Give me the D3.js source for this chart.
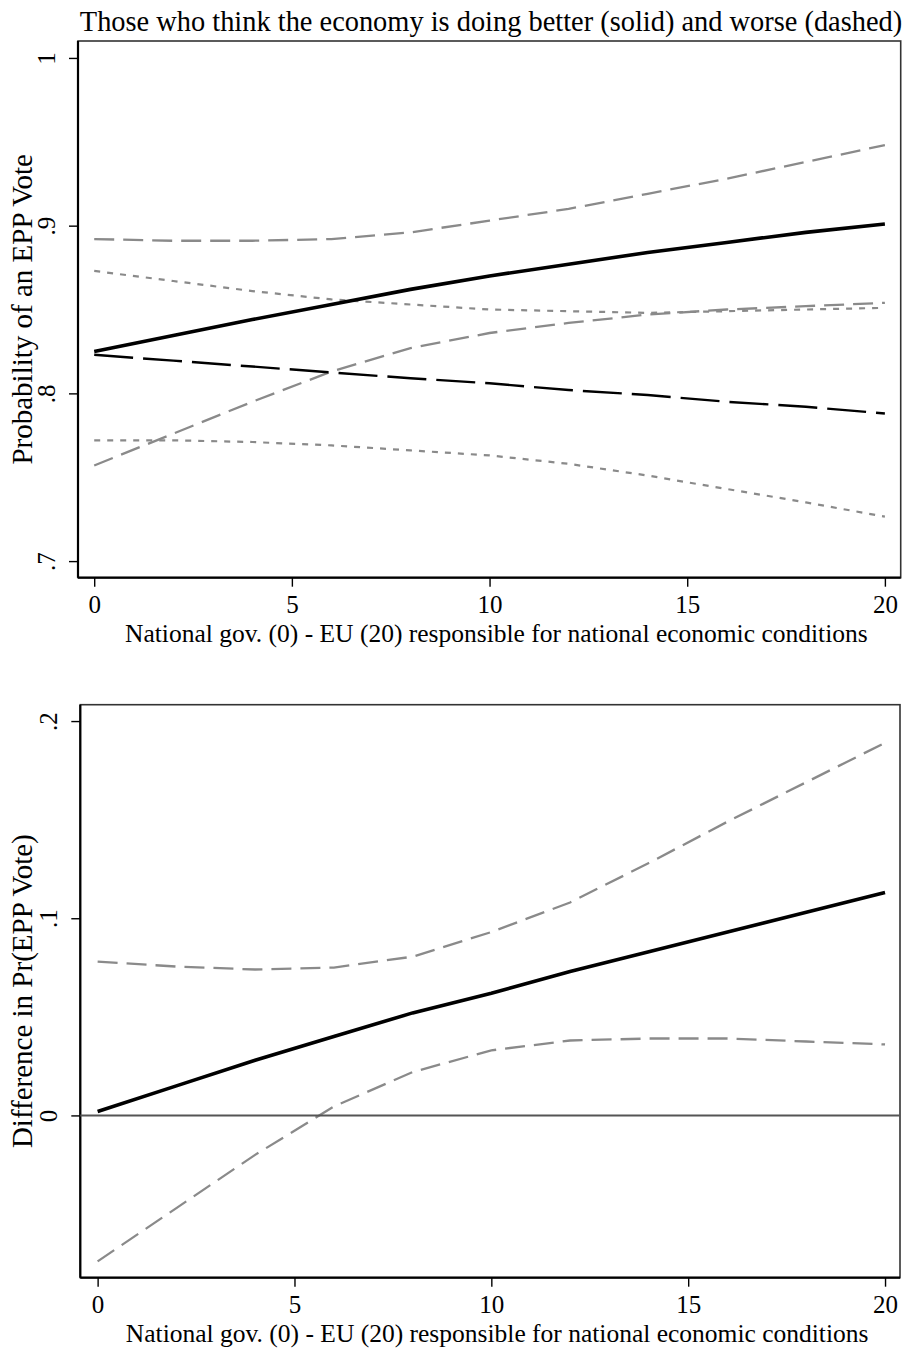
<!DOCTYPE html>
<html>
<head>
<meta charset="utf-8">
<script src="https://cdnjs.cloudflare.com/ajax/libs/d3/7.8.5/d3.min.js"></script>
<style>
  body { margin: 0; background: #fff; }
  text { font-family: "Liberation Serif", "Times New Roman", serif; fill: #000; }
</style>
</head>
<body>
<div id="chart"></div>
<script>
// x values where the predictions were computed
var xVals = [0, 2, 4, 6, 8, 10, 12, 14, 16, 18, 20];

// top panel: predicted probability of an EPP vote
var betterFit = [0.825, 0.8345, 0.844, 0.853, 0.862, 0.870, 0.877, 0.884, 0.890, 0.896, 0.901];
var betterHi  = [0.892, 0.891, 0.891, 0.892, 0.896, 0.903, 0.910, 0.919, 0.928, 0.938, 0.948];
var betterLo  = [0.757, 0.776, 0.795, 0.813, 0.827, 0.836, 0.842, 0.847, 0.850, 0.852, 0.854];
var worseFit  = [0.823, 0.8195, 0.816, 0.8125, 0.809, 0.806, 0.802, 0.799, 0.795, 0.792, 0.788];
var worseHi   = [0.873, 0.867, 0.861, 0.856, 0.853, 0.850, 0.849, 0.848, 0.849, 0.850, 0.851];
var worseLo   = [0.772, 0.772, 0.771, 0.769, 0.766, 0.763, 0.758, 0.751, 0.743, 0.735, 0.7265];

// bottom panel: difference in Pr(EPP vote)
var diffFit = [0.002, 0.015, 0.028, 0.040, 0.052, 0.062, 0.073, 0.083, 0.093, 0.103, 0.113];
var diffHi  = [0.078, 0.0755, 0.074, 0.075, 0.0805, 0.093, 0.108, 0.128, 0.149, 0.169, 0.189];
var diffLo  = [-0.074, -0.047, -0.020, 0.0045, 0.022, 0.033, 0.038, 0.039, 0.039, 0.0375, 0.036];

// ticks
var xTicks = [0, 5, 10, 15, 20];
var topYTicks = [0.7, 0.8, 0.9, 1];
var topYLabels = [".7", ".8", ".9", "1"];
var botYTicks = [0, 0.1, 0.2];
var botYLabels = ["0", ".1", ".2"];

var titleText = "Those who think the economy is doing better (solid) and worse (dashed)";
var xTitle = "National gov. (0) - EU (20) responsible for national economic conditions";
var topYTitle = "Probability of an EPP Vote";
var botYTitle = "Difference in Pr(EPP Vote)";

var W = 905, H = 1348;
var grey = "#8a8a8a";

var svg = d3.select("#chart")
    .append("svg")
    .attr("width", W)
    .attr("height", H);

svg.append("rect").attr("width", W).attr("height", H).attr("fill", "#fff");

function zip(ys) {
    return xVals.map(function(x, i) { return { x: x, y: ys[i] }; });
}

// draws one panel; box = plot region in pixels
function panel(box, xDom, yDom, yTicks, yLabels, yTitle, series) {
    var x = d3.scaleLinear().domain(xDom).range([box.left, box.right]);
    var y = d3.scaleLinear().domain(yDom).range([box.bottom, box.top]);

    // outline of the plot region
    svg.append("rect")
        .attr("x", box.left).attr("y", box.top)
        .attr("width", box.right - box.left)
        .attr("height", box.bottom - box.top)
        .attr("fill", "none")
        .attr("stroke", "#333")
        .attr("stroke-width", 1.6);

    var line = d3.line()
        .x(function(d) { return x(d.x); })
        .y(function(d) { return y(d.y); });

    series.forEach(function(s) {
        svg.append("path")
            .datum(zip(s.values))
            .attr("d", line)
            .attr("fill", "none")
            .attr("stroke", s.color)
            .attr("stroke-width", s.width)
            .attr("stroke-dasharray", s.dash || null);
    });

    // x axis
    var xAxis = d3.axisBottom(x).tickValues(xTicks).tickSize(9).tickPadding(9)
        .tickFormat(d3.format("d"));
    var gx = svg.append("g")
        .attr("transform", "translate(0," + box.bottom + ")")
        .call(xAxis);
    gx.select(".domain").attr("stroke", "#000").attr("stroke-width", 2.2)
        .attr("d", "M" + box.left + ",0H" + box.right);
    gx.selectAll(".tick line").attr("stroke", "#000").attr("stroke-width", 1.4);
    gx.selectAll(".tick text").attr("font-size", 25).attr("fill", "#000")
        .attr("font-family", "Liberation Serif, serif");

    // y axis, labels rotated like Stata
    var yAxis = d3.axisLeft(y).tickValues(yTicks).tickSize(9)
        .tickFormat(function(d, i) { return yLabels[i]; });
    var gy = svg.append("g")
        .attr("transform", "translate(" + box.left + ",0)")
        .call(yAxis);
    gy.select(".domain").attr("stroke", "#000").attr("stroke-width", 2.2)
        .attr("d", "M0," + box.top + "V" + box.bottom);
    gy.selectAll(".tick line").attr("stroke", "#000").attr("stroke-width", 1.4);
    gy.selectAll(".tick text")
        .attr("font-size", 25).attr("fill", "#000")
        .attr("font-family", "Liberation Serif, serif")
        .attr("x", null).attr("dy", null)
        .attr("text-anchor", "middle")
        .attr("transform", "translate(-23,0) rotate(-90)");

    svg.append("text")
        .attr("transform", "translate(32," + ((box.top + box.bottom) / 2) + ") rotate(-90)")
        .attr("text-anchor", "middle")
        .attr("font-size", 29)
        .text(yTitle);

    svg.append("text")
        .attr("x", (box.left + box.right) / 2 + 7)
        .attr("y", box.bottom + 64.5)
        .attr("text-anchor", "middle")
        .attr("font-size", 25.5)
        .text(xTitle);

    return { x: x, y: y };
}

// top panel
panel({ left: 78, right: 900.7, top: 41, bottom: 577.7 },
    [-0.41, 20.4], [0.6901, 1.0101], topYTicks, topYLabels, topYTitle,
    [
        { values: betterHi, color: grey, width: 2.3, dash: "20 9" },
        { values: betterLo, color: grey, width: 2.3, dash: "20 9" },
        { values: worseHi, color: grey, width: 2.2, dash: "6 7" },
        { values: worseLo, color: grey, width: 2.2, dash: "6 7" },
        { values: worseFit, color: "#000", width: 2.4, dash: "39 10" },
        { values: betterFit, color: "#000", width: 3.6 }
    ]);

svg.append("text")
    .attr("x", 491)
    .attr("y", 31)
    .attr("text-anchor", "middle")
    .attr("font-size", 28.4)
    .text(titleText);

// bottom panel
var bot = panel({ left: 80.3, right: 900, top: 704.7, bottom: 1277.7 },
    [-0.44, 20.38], [-0.0823, 0.2083], botYTicks, botYLabels, botYTitle,
    [
        { values: diffHi, color: grey, width: 2.3, dash: "20 9" },
        { values: diffLo, color: grey, width: 2.3, dash: "20 9" }
    ]);

// reference line at zero
svg.append("line")
    .attr("x1", 80.3).attr("x2", 900)
    .attr("y1", bot.y(0)).attr("y2", bot.y(0))
    .attr("stroke", "#555")
    .attr("stroke-width", 2);

svg.append("path")
    .datum(zip(diffFit))
    .attr("d", d3.line().x(function(d) { return bot.x(d.x); }).y(function(d) { return bot.y(d.y); }))
    .attr("fill", "none")
    .attr("stroke", "#000")
    .attr("stroke-width", 3.6);
</script>
</body>
</html>
